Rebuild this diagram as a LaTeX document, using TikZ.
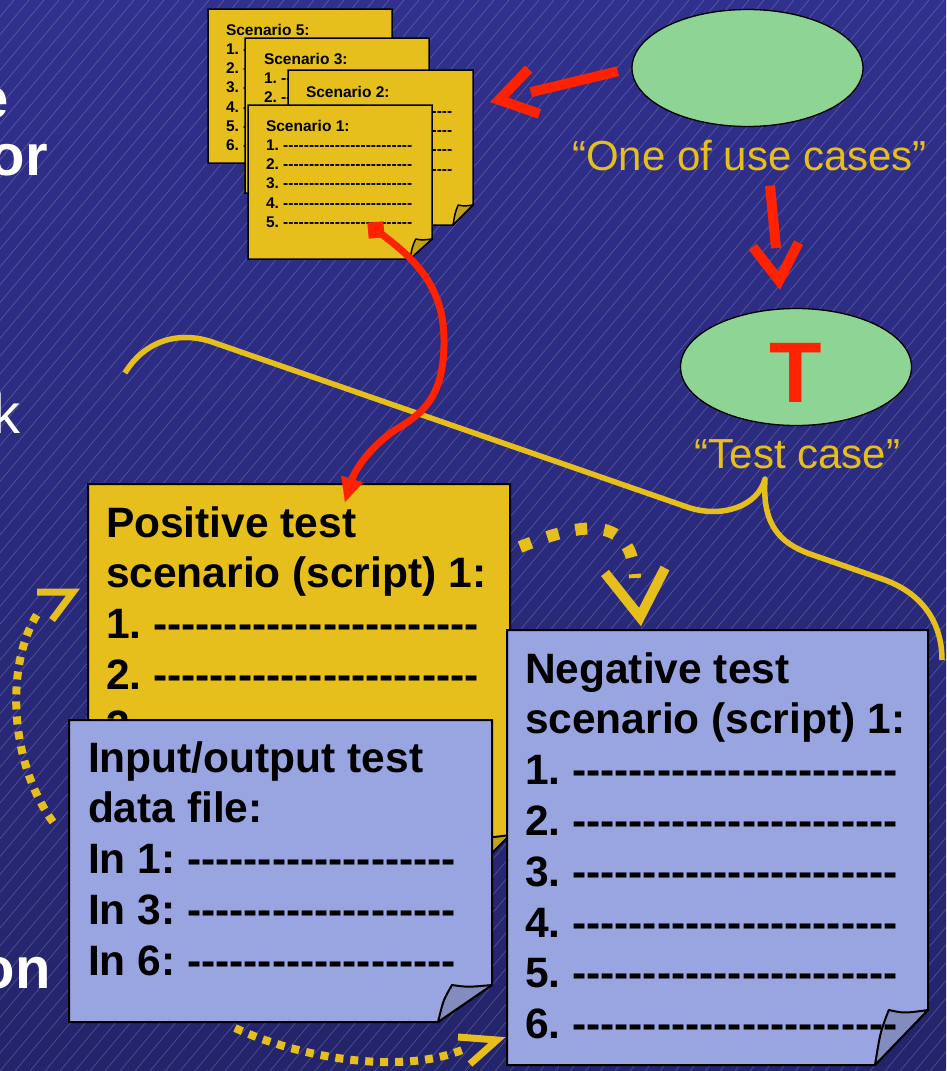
\documentclass[tikz,border=0pt]{standalone}
\usepackage{fontspec}
\usetikzlibrary{shapes.geometric,arrows.meta,calc}
\newfontfamily\arialfont{Liberation Sans}

\definecolor{bgtop}{RGB}{48,48,142}
\definecolor{bgbottom}{RGB}{36,36,108}
\definecolor{paperyellow}{RGB}{230,191,28}
\definecolor{paperblue}{RGB}{153,165,225}
\definecolor{casegreen}{RGB}{142,212,148}
\definecolor{flowred}{RGB}{255,34,0}

% a run of plain hyphens (kerns keep them from joining into dashes)
\newcommand\dashrun[1]{\foreach\k in {1,...,#1}{-\kern0pt}}

% sheet of paper with a curled bottom-right corner
% #1 name, #2 left, #3 top, #4 right, #5 bottom, #6/#7 curl size, #8 paper colour, #9 outline width
\newcommand\papernote[9]{%
  \filldraw[draw=black, line width=#9, line join=miter, fill=#8]
    (#2,#3) -- (#4,#3) -- (#4,#5-#7) -- (#4-#6,#5) -- (#2,#5) -- cycle;
  \filldraw[draw=black, line width=#9, line join=round, fill=#8!85!black]
    (#4-#6,#5) .. controls (#4-0.9*#6,#5-0.6*#7) .. (#4-0.74*#6,#5-#7)
    .. controls (#4-0.45*#6,#5-0.94*#7) .. (#4,#5-#7) -- cycle;
  \node[inner sep=0pt, outer sep=0pt, minimum width={#4-#2}, minimum height={#5-#3}]
    (#1) at ({(#2+#4)/2},{(#3+#5)/2}) {};
}

\begin{document}
\frenchspacing
\begin{tikzpicture}[x=1pt, y=-1pt,
  hatch/.style={draw=white, draw opacity=0.22, line width=0.6pt},
  bigtext/.style={font=\fontsize{42.5}{50.8}\arialfont\bfseries, align=left,
    anchor=north west, inner sep=0pt, outer sep=0pt},
  smalltext/.style={font=\fontsize{15.5}{19.3}\arialfont\bfseries, align=left,
    anchor=north west, inner sep=0pt, outer sep=0pt},
  cutword/.style={text=white, anchor=base east, inner sep=0pt},
  casename/.style={font=\fontsize{42}{50}\arialfont, text=paperyellow,
    anchor=base, inner sep=0pt},
  usecase/.style={ellipse, draw=black, line width=1.3pt, fill=casegreen,
    inner sep=0pt, minimum width=231pt, minimum height=117pt},
  brace/.style={draw=paperyellow, line width=5.5pt, line join=round},
  veearrow/.style={draw=flowred, line width=10pt, shorten >=42pt,
    postaction={draw=flowred, line width=0.01pt, shorten >=0pt, shorten <=0pt,
      -{Straight Barb[length=36pt, width=46pt, line width=10pt 0, sharp]}}},
  redflow/.style={draw=flowred, line width=7pt,
    -{Triangle[length=24pt, width=23pt, line width=0.1pt 0]}},
  redmark/.style={fill=flowred, inner sep=0pt, minimum size=16pt, rotate=5},
  smalldots/.style={draw=paperyellow, line width=8pt, dash pattern=on 8pt off 7pt},
  bigdots/.style={draw=paperyellow, line width=12pt, dash pattern=on 12pt off 17pt},
  smallvee/.style={draw=paperyellow, line width=7pt, line join=miter},
  bigvee/.style={draw=paperyellow, line width=10pt, line join=miter}
]
\useasboundingbox (0,0) rectangle (946,1071);
\clip (0,0) rectangle (946,1071);

% backdrop with fine diagonal lines
\shade[top color=bgtop, bottom color=bgbottom] (0,0) rectangle (946,1071);
\foreach \s in {-900,-885,...,946} \draw[hatch] (\s,1071) -- ({\s+899},0);

% word ends of the slide text at the left edge
\node[cutword, font=\fontsize{58}{60}\arialfont\bfseries] (cutE) at (9,118) {e};
\node[cutword, font=\fontsize{58}{60}\arialfont\bfseries] (cutOr) at (48,175) {or};
\node[cutword, font=\fontsize{56}{60}\arialfont] (cutK) at (21,433) {k};
\node[cutword, font=\fontsize{58}{60}\arialfont\bfseries] (cutOn) at (51,988) {on};

% brace from the test case over the scenarios
\coordinate (cusp) at (765,479);
\draw[brace] (125,373) .. controls (145,340) and (180,330) .. (215,343)
  -- (687,507) .. controls (722,519) and (758,506) .. (cusp)
  .. controls (762,525) and (780,543) .. (810,554)
  -- (885,580) .. controls (925,595) and (942,625) .. (942,660);

% stack of scenario sheets
\papernote{sc5}{208}{9}{392}{163}{20}{20}{paperyellow}{1.5pt}
\node[smalltext] (sc5txt) at (226,23) {\rule{0pt}{12pt}Scenario 5:\\
  1. \dashrun{25}\\2. \dashrun{25}\\3. \dashrun{25}\\
  4. \dashrun{25}\\5. \dashrun{25}\\6. \dashrun{25}};
\papernote{sc3}{245}{38}{429}{193}{20}{20}{paperyellow}{1.5pt}
\node[smalltext] (sc3txt) at (264,52) {\rule{0pt}{12pt}Scenario 3:\\
  1. \dashrun{25}\\2. \dashrun{25}\\3. \dashrun{25}\\
  4. \dashrun{25}\\5. \dashrun{25}\\6. \dashrun{25}};
\papernote{sc2}{288}{70}{473}{225}{20}{20}{paperyellow}{1.5pt}
\node[smalltext] (sc2txt) at (306,85) {\rule{0pt}{12pt}Scenario 2:\\
  1. \dashrun{25}\\2. \dashrun{25}\\3. \dashrun{25}\\4. \dashrun{25}};
\papernote{sc1}{248}{105}{432}{259}{22}{20}{paperyellow}{1.5pt}
\node[smalltext] (sc1txt) at (266,119) {\rule{0pt}{12pt}Scenario 1:\\
  1. \dashrun{25}\\2. \dashrun{25}\\3. \dashrun{25}\\
  4. \dashrun{25}\\5. \dashrun{25}};

% use case and test case
\node[usecase] (uc) at (747.5,68) {};
\node[casename] (uclbl) at (749.5,170) {“One of use cases”};
\node[usecase] (tc) at (796,367) {};
\node[font=\fontsize{86}{86}\arialfont\bfseries, text=flowred, anchor=base,
  inner sep=0pt] (tmark) at (796,402) {T};
\node[casename] (tclbl) at (797.5,468) {“Test case”};

% positive scenario
\papernote{pos}{88}{484}{510}{885}{50}{50}{paperyellow}{2pt}
\node[bigtext] (postxt) at (106,505) {\rule{0pt}{32pt}Positive test\\
  scenario (script) 1:\\1. \dashrun{23}\\2. \dashrun{23}\\3. \dashrun{23}};

% negative scenario
\papernote{neg}{507}{630}{928}{1065}{53}{55}{paperblue}{2pt}
\node[bigtext] (negtxt) at (525,651) {\rule{0pt}{32pt}Negative test\\
  scenario (script) 1:\\1. \dashrun{23}\\2. \dashrun{23}\\3. \dashrun{23}\\
  4. \dashrun{23}\\5. \dashrun{23}\\6. \dashrun{23}};

% input/output data file
\papernote{io}{69}{720}{492}{1022}{54}{37}{paperblue}{2pt}
\node[bigtext] (iotxt) at (88,740) {\rule{0pt}{32pt}Input/output test\\
  data file:\\In 1: \dashrun{19}\\In 3: \dashrun{19}\\In 6: \dashrun{19}};

% red connectors
\coordinate (stackTip) at ($(sc2.north east)+(17,32)$);
\draw[veearrow, shorten <=14pt] (uc.west) -- (stackTip);
\coordinate (ucFoot) at ($(uclbl.south)+(20.5,15)$);
\coordinate (tcTip) at ($(tc.north)+(-16,-18)$);
\draw[veearrow] (ucFoot) -- (tcTip);

\node[redmark] (srcmark) at (376,230) {};
\coordinate (posIn) at ($(pos.north west)+(257,18)$);
\draw[redflow] (srcmark.center) .. controls (420,262) and (445,290) .. (444,345)
  .. controls (443,400) and (420,415) .. (395,430)
  .. controls (370,447) and (355,470) .. (posIn);

% dotted cycle arrows
\coordinate (leftHead) at (73,592);
\draw[smalldots] (53,822) .. controls (8,760) and (5,660) .. (40,610);
\draw[smallvee] ($(leftHead)+(-36,0)$) -- (leftHead) -- ($(leftHead)+(-21,28)$);

\coordinate (negHead) at (640,617);
\draw[bigdots] (520,547) .. controls (575,525) and (632,510) .. (635,578);
\draw[bigvee] ($(negHead)+(-35,-44)$) -- (negHead) -- ($(negHead)+(25,-49)$);

\coordinate (bottomHead) at (497,1040);
\draw[smalldots] (235,1028) .. controls (300,1058) and (400,1075) .. (462,1050);
\draw[smallvee] ($(bottomHead)+(-39,-3)$) -- (bottomHead) -- ($(bottomHead)+(-27,24)$);
\end{tikzpicture}
\end{document}
